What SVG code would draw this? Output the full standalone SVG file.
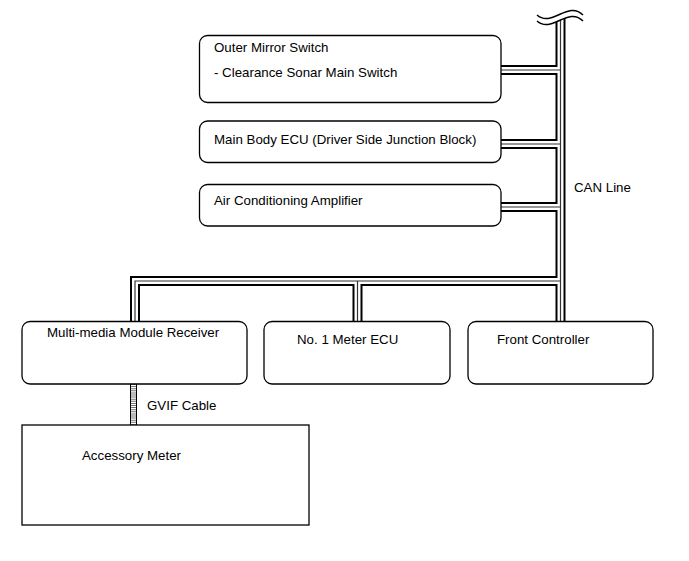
<svg xmlns="http://www.w3.org/2000/svg" width="689" height="561" viewBox="0 0 689 561">
<style>
.box{fill:#fff;stroke:#000;stroke-width:1.3}
.t{font-family:"Liberation Sans",Arial,sans-serif;font-size:13.3px;fill:#000}
.c1{fill:none;stroke:#000;stroke-width:10;stroke-linejoin:miter}
.c2{fill:none;stroke:#fff;stroke-width:6;stroke-linejoin:miter}
.c3{fill:none;stroke:#333;stroke-width:1.2;stroke-linejoin:miter}
.wave{fill:none;stroke:#000;stroke-width:1.5}
</style>
<rect width="689" height="561" fill="#fff"/>
<g id="connectors">
<path id="can" class="c1" d="M560.5 12V321.5M500 70H560.5M500 144H560.5M500 207H560.5M560.5 281H135V321.5M357.5 281V321.5"/>
<path class="c2" d="M560.5 12V321.5M500 70H560.5M500 144H560.5M500 207H560.5M560.5 281H135V321.5M357.5 281V321.5"/>
<path class="c3" d="M560.5 12V321.5M500 70H560.5M500 144H560.5M500 207H560.5M560.5 281H135V321.5M357.5 281V321.5"/>
<path d="M537 21C552 34 568 6 583 21L583 0L537 0Z" fill="#fff"/>
<path class="wave" d="M537 15C552 28 568 0 583 15"/>
<path class="wave" d="M537 21C552 34 568 6 583 21"/>
<g id="gvif">
<line x1="133.5" y1="384" x2="133.5" y2="425" stroke="#777" stroke-width="6" stroke-dasharray="1 1.1"/>
<line x1="130.5" y1="384" x2="130.5" y2="425" stroke="#000" stroke-width="1"/>
<line x1="136.5" y1="384" x2="136.5" y2="425" stroke="#000" stroke-width="1"/>
</g>
<text class="t" x="574" y="192">CAN Line</text>
<text class="t" x="147" y="410">GVIF Cable</text>
</g>
<g id="outer-mirror">
<rect class="box" x="199.5" y="35.5" width="301.5" height="67" rx="8"/>
<text class="t" x="214" y="52">Outer Mirror Switch</text>
<text class="t" x="214" y="77">- Clearance Sonar Main Switch</text>
</g>
<g id="main-body">
<rect class="box" x="199.5" y="121" width="301.5" height="41.5" rx="8"/>
<text class="t" x="214" y="144">Main Body ECU (Driver Side Junction Block)</text>
</g>
<g id="air-cond">
<rect class="box" x="199.5" y="184.5" width="301.5" height="41.5" rx="8"/>
<text class="t" x="214" y="205">Air Conditioning Amplifier</text>
</g>
<g id="multimedia">
<rect class="box" x="22" y="321.5" width="225" height="62.5" rx="8"/>
<text class="t" x="47" y="337">Multi-media Module Receiver</text>
</g>
<g id="meter-ecu">
<rect class="box" x="264" y="321.5" width="186" height="62.5" rx="8"/>
<text class="t" x="297" y="344">No. 1 Meter ECU</text>
</g>
<g id="front-controller">
<rect class="box" x="468" y="321.5" width="185" height="62.5" rx="8"/>
<text class="t" x="497" y="344">Front Controller</text>
</g>
<g id="accessory-meter">
<rect class="box" x="22" y="425" width="287" height="100"/>
<text class="t" x="82" y="460">Accessory Meter</text>
</g>
</svg>
